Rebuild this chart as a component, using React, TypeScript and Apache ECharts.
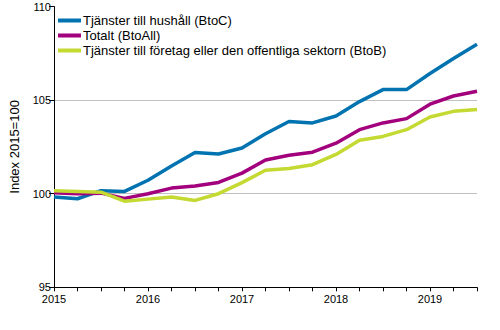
import React, { useEffect, useRef } from "react";
import * as echarts from "echarts";

const categories = [
  "2015Q1", "2015Q2", "2015Q3", "2015Q4",
  "2016Q1", "2016Q2", "2016Q3", "2016Q4",
  "2017Q1", "2017Q2", "2017Q3", "2017Q4",
  "2018Q1", "2018Q2", "2018Q3", "2018Q4",
  "2019Q1", "2019Q2", "2019Q3",
];

const btoC = [99.82, 99.73, 100.16, 100.12, 100.72, 101.48, 102.2, 102.12, 102.44, 103.2, 103.86, 103.78, 104.15, 104.92, 105.56, 105.56, 106.42, 107.22, 107.98];
const btoAll = [100.05, 100.0, 100.03, 99.75, 100.0, 100.3, 100.41, 100.6, 101.1, 101.8, 102.05, 102.22, 102.7, 103.42, 103.78, 104.01, 104.78, 105.22, 105.47];
const btoB = [100.16, 100.12, 100.08, 99.6, 99.71, 99.82, 99.64, 100.0, 100.59, 101.25, 101.35, 101.55, 102.1, 102.85, 103.06, 103.42, 104.1, 104.4, 104.5];

const seriesNames = [
  "Tjänster till hushåll (BtoC)",
  "Totalt (BtoAll)",
  "Tjänster till företag eller den offentliga sektorn (BtoB)",
];
const colors = ["#0073B0", "#A3007E", "#C4D931"];

const yName = "Index 2015=100";

export default function App() {
  const ref = useRef<HTMLDivElement>(null);
  useEffect(() => {
    document.body.style.margin = "0";
    if (!ref.current) return;
    const chart = echarts.init(ref.current, undefined, { renderer: "svg" });
    const font = "Liberation Sans, Arial, sans-serif";
    const data = [btoC, btoAll, btoB];
    chart.setOption({
      animation: false,
      textStyle: { fontFamily: font },
      color: colors,
      grid: { left: 53, right: 23, top: 6.5, bottom: 42.7, containLabel: false },
      legend: {
        orient: "vertical",
        left: 53,
        top: 9,
        icon: "rect",
        itemWidth: 23,
        itemHeight: 4,
        itemGap: 2,
        data: seriesNames,
        textStyle: { fontFamily: font, fontSize: 13, color: "#000", padding: [0, 0, 0, -3] },
      },
      xAxis: {
        type: "category",
        data: categories,
        boundaryGap: false,
        axisLine: { lineStyle: { color: "#000", width: 1 } },
        axisTick: { interval: 0, length: 4, lineStyle: { color: "#000" } },
        axisLabel: {
          interval: 3,
          margin: 6,
          fontSize: 11,
          color: "#000",
          fontFamily: font,
          formatter: (v: string) => v.slice(0, 4),
        },
        splitLine: { show: false },
      },
      yAxis: {
        type: "value",
        min: 95,
        max: 110,
        interval: 5,
        name: yName,
        nameLocation: "middle",
        nameGap: 33,
        nameTextStyle: { fontSize: 13, color: "#000", fontFamily: font },
        axisLine: { show: true, lineStyle: { color: "#000", width: 1 } },
        axisTick: { show: true, length: 5, lineStyle: { color: "#000" } },
        axisLabel: { fontSize: 11, color: "#000", margin: 3, fontFamily: font },
        splitLine: {
          show: true,
          lineStyle: { color: ["rgba(0,0,0,0)", "#c0c0c0", "#c0c0c0", "rgba(0,0,0,0)"], width: 1 },
        },
      },
      series: seriesNames.map((name, i) => ({
        name,
        type: "line",
        data: data[i],
        symbol: "none",
        lineStyle: { width: 3.5, color: colors[i] },
        itemStyle: { color: colors[i] },
      })),
    });
    return () => chart.dispose();
  }, []);
  return <div ref={ref} style={{ width: 500, height: 330 }} />;
}
